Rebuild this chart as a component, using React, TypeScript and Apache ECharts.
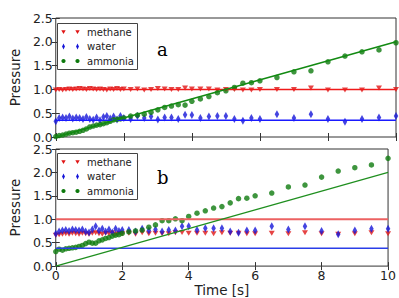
import React, { useEffect, useRef } from "react";
import * as echarts from "echarts";

const times = [
  0, 0.1, 0.2, 0.3, 0.4, 0.5, 0.6, 0.7, 0.8, 0.9, 1.0, 1.1, 1.2, 1.3, 1.4, 1.5, 1.6, 1.7, 1.8, 1.9, 2.0,
  2.2, 2.4, 2.6, 2.8, 3.0, 3.2, 3.4, 3.6, 3.8, 4.0,
  4.25, 4.5, 4.75, 5.0, 5.25, 5.5, 5.75, 6.0,
  6.5, 7.0, 7.5, 8.0, 8.5, 9.0, 9.5, 10.0,
];

// panel a
const methaneA = [
  0.99, 1.0, 0.99, 1.0, 1.01, 1.0, 1.01, 1.02, 1.01, 1.0, 1.02, 1.01, 1.0, 1.01, 1.0, 0.99, 1.01, 1.0, 1.02, 1.0, 1.01,
  1.0, 1.01, 0.99, 1.0, 1.02, 1.01, 1.0, 1.0, 1.03, 1.01,
  1.01, 1.01, 0.99, 1.0, 1.0, 0.99, 0.99, 1.0,
  1.0, 1.0, 1.03, 0.99, 0.99, 0.99, 1.03, 1.0,
];
const waterA = [
  0.33, 0.4, 0.41, 0.4, 0.43, 0.39, 0.41, 0.4, 0.38, 0.42, 0.38, 0.36, 0.41, 0.35, 0.42, 0.44, 0.39, 0.43, 0.37, 0.44, 0.4,
  0.38, 0.44, 0.4, 0.43, 0.37, 0.41, 0.41, 0.38, 0.47, 0.46,
  0.4, 0.43, 0.44, 0.44, 0.38, 0.34, 0.4, 0.38,
  0.48, 0.4, 0.48, 0.38, 0.32, 0.38, 0.41, 0.44,
];
const ammoniaA = [
  0.01, 0.03, 0.04, 0.06, 0.08, 0.09, 0.1, 0.12, 0.14, 0.17, 0.21, 0.23, 0.25, 0.26, 0.28, 0.3, 0.33, 0.36, 0.37, 0.38, 0.4,
  0.44, 0.46, 0.48, 0.52, 0.57, 0.62, 0.65, 0.68, 0.67, 0.75,
  0.8, 0.85, 0.93, 0.97, 1.04, 1.13, 1.14, 1.18,
  1.25, 1.37, 1.39, 1.58, 1.7, 1.79, 1.83, 1.98,
];

// panel b
const methaneB = [
  0.66, 0.67, 0.68, 0.69, 0.68, 0.7, 0.69, 0.68, 0.7, 0.69, 0.68, 0.7, 0.71, 0.69, 0.68, 0.7, 0.69, 0.71, 0.68, 0.7, 0.69,
  0.7, 0.68, 0.71, 0.69, 0.7, 0.69, 0.69, 0.71, 0.72, 0.7,
  0.7, 0.7, 0.69, 0.71, 0.7, 0.7, 0.69, 0.69,
  0.7, 0.69, 0.71, 0.69, 0.68, 0.69, 0.71, 0.69,
];
const waterB = [
  0.69, 0.74, 0.76, 0.77, 0.75, 0.78, 0.77, 0.76, 0.78, 0.74, 0.72, 0.78, 0.85, 0.76, 0.8, 0.74, 0.78, 0.72, 0.8, 0.75, 0.77,
  0.77, 0.74, 0.8, 0.76, 0.78, 0.74, 0.77, 0.76, 0.85, 0.85,
  0.77, 0.81, 0.81, 0.81, 0.74, 0.71, 0.76, 0.76,
  0.85, 0.78, 0.85, 0.75, 0.68, 0.76, 0.8, 0.8,
];
const ammoniaB = [
  0.31, 0.36, 0.34, 0.37, 0.38, 0.39, 0.4, 0.42, 0.44, 0.48, 0.51, 0.49, 0.49, 0.54, 0.56, 0.59, 0.61, 0.64, 0.66, 0.67, 0.7,
  0.73, 0.75, 0.77, 0.83, 0.88, 0.97, 0.97, 1.01, 0.97, 1.06,
  1.13, 1.18, 1.24, 1.27, 1.35, 1.44, 1.45, 1.5,
  1.56, 1.69, 1.73, 1.9, 2.03, 2.1, 2.16, 2.3,
];

// fitted lines (endpoints)
const fitTimes = [0, 10];
const methaneFitA = [1.0, 1.0];
const waterFitA = [0.35, 0.35];
const ammoniaFitA = [0.0, 2.0];
const methaneFitB = [1.0, 1.0];
const waterFitB = [0.38, 0.38];
const ammoniaFitB = [0.0, 2.0];

const xTicks = { min: 0, max: 10, interval: 2 };
const yTicks = { min: 0, max: 2.5, interval: 0.5 };
const panelLabels = ["a", "b"];
const legendNames = ["methane", "water", "ammonia"];

const FONT = "DejaVu Sans";
const C_RED = "#e01515";
const C_BLUE = "#1515d8";
const C_GREEN = "#0e7a0e";

const pairs = (xs: number[], ys: number[]) => xs.map((x, i) => [x, ys[i]]);

function legendGraphic(top: number, label: string, labelTop: number) {
  const left = 57;
  const rowY = [top + 9, top + 23.5, top + 38];
  const m1 = left + 6.5;
  const m2 = left + 20.5;
  const children: any[] = [
    {
      type: "rect",
      shape: { x: left + 0.5, y: top + 0.5, width: 80, height: 46 },
      style: { fill: "#fff", stroke: "#444", lineWidth: 1 },
      z: 10,
    },
  ];
  [m1, m2].forEach((mx) => {
    children.push({
      type: "polygon",
      shape: { points: [[mx - 2.2, rowY[0] - 1.8], [mx + 2.2, rowY[0] - 1.8], [mx, rowY[0] + 2]] },
      style: { fill: C_RED },
      z: 11,
    });
    children.push({
      type: "polygon",
      shape: { points: [[mx, rowY[1] - 3], [mx + 1.4, rowY[1]], [mx, rowY[1] + 3], [mx - 1.4, rowY[1]]] },
      style: { fill: C_BLUE },
      z: 11,
    });
    children.push({
      type: "circle",
      shape: { cx: mx, cy: rowY[2], r: 2.1 },
      style: { fill: C_GREEN },
      z: 11,
    });
  });
  legendNames.forEach((n, i) => {
    children.push({
      type: "text",
      x: left + 30,
      y: rowY[i],
      style: { text: n, font: `10px "${FONT}"`, fill: "#222", verticalAlign: "middle", align: "left" },
      z: 11,
    });
  });
  children.push({
    type: "text",
    x: 157,
    y: labelTop,
    style: { text: label, font: '18px "DejaVu Serif"', fill: "#000" },
    z: 11,
  });
  return { type: "group", children };
}

export default function App() {
  const ref = useRef<HTMLDivElement>(null);
  useEffect(() => {
    if (!ref.current) return;
    const chart = echarts.init(ref.current, undefined, { renderer: "svg" });
    const tick = { show: true, inside: true, length: 4, lineStyle: { color: "#333", width: 1 } };
    const xAxisBase = (grid: number, pos: string, labels: boolean, name?: string) => ({
      type: "value",
      gridIndex: grid,
      position: pos,
      ...xTicks,
      axisLine: { show: false },
      axisTick: tick,
      splitLine: { show: false },
      axisLabel: {
        show: labels,
        margin: 3,
        fontFamily: FONT,
        fontSize: 12.5,
        color: "#222",
        formatter: (v: number) => String(v),
      },
      name: name,
      nameLocation: "middle",
      nameGap: 16,
      nameTextStyle: { fontFamily: FONT, fontSize: 13.5, color: "#222" },
    });
    const yAxisBase = (grid: number, pos: string, labels: boolean, name?: string) => ({
      type: "value",
      gridIndex: grid,
      position: pos,
      ...yTicks,
      axisLine: { show: false },
      axisTick: tick,
      splitLine: { show: false },
      axisLabel: {
        show: labels,
        margin: 3,
        fontFamily: FONT,
        fontSize: 12.5,
        color: "#222",
        formatter: (v: number) => v.toFixed(1),
      },
      name: name,
      nameLocation: "middle",
      nameRotate: 90,
      nameGap: 26,
      nameTextStyle: { fontFamily: FONT, fontSize: 13.5, color: "#222" },
    });

    const scatter = (name: string, data: number[], xi: number, yi: number, kind: string) => {
      const base: any = {
        type: "scatter",
        name,
        xAxisIndex: xi,
        yAxisIndex: yi,
        data: pairs(times, data),
        z: 2,
      };
      if (kind === "tri") {
        base.symbol = "triangle";
        base.symbolRotate = 180;
        base.symbolSize = [6, 5];
        base.itemStyle = { color: C_RED };
      } else if (kind === "dia") {
        base.symbol = "diamond";
        base.symbolSize = [4.5, 8];
        base.itemStyle = { color: C_BLUE };
      } else {
        base.symbol = "circle";
        base.symbolSize = 5.5;
        base.itemStyle = { color: C_GREEN };
      }
      return base;
    };
    const fit = (name: string, data: number[], xi: number, yi: number, color: string, width: number) => ({
      type: "line",
      name,
      xAxisIndex: xi,
      yAxisIndex: yi,
      data: pairs(fitTimes, data),
      showSymbol: false,
      symbol: "none",
      lineStyle: { color, width },
      z: 3,
      silent: true,
    });

    chart.setOption({
      animation: false,
      backgroundColor: "#fff",
      grid: [
        { left: 52, top: 18, width: 344, height: 119, show: true, borderColor: "#333", borderWidth: 1, backgroundColor: "transparent" },
        { left: 52, top: 149, width: 344, height: 119, show: true, borderColor: "#333", borderWidth: 1, backgroundColor: "transparent" },
      ],
      xAxis: [
        xAxisBase(0, "bottom", false),
        xAxisBase(0, "top", false),
        xAxisBase(1, "bottom", true, "Time [s]"),
        xAxisBase(1, "top", false),
      ],
      yAxis: [
        yAxisBase(0, "left", true, "Pressure"),
        yAxisBase(0, "right", false),
        yAxisBase(1, "left", true, "Pressure"),
        yAxisBase(1, "right", false),
      ],
      graphic: [legendGraphic(23, panelLabels[0], 40), legendGraphic(153, panelLabels[1], 168)],
      series: [
        scatter("methane", methaneA, 0, 0, "tri"),
        scatter("water", waterA, 0, 0, "dia"),
        scatter("ammonia", ammoniaA, 0, 0, "cir"),
        fit("methane fit a", methaneFitA, 0, 0, "#f01a1a", 1.5),
        fit("water fit a", waterFitA, 0, 0, "#1a1aff", 1.5),
        fit("ammonia fit a", ammoniaFitA, 0, 0, "#128a12", 1.5),
        scatter("methane", methaneB, 2, 2, "tri"),
        scatter("water", waterB, 2, 2, "dia"),
        scatter("ammonia", ammoniaB, 2, 2, "cir"),
        fit("methane fit b", methaneFitB, 2, 2, "#ec6262", 2.2),
        fit("water fit b", waterFitB, 2, 2, "#2a3ee8", 1.5),
        fit("ammonia fit b", ammoniaFitB, 2, 2, "#1f8f1f", 1.2),
      ],
    });
    return () => chart.dispose();
  }, []);
  return (
    <div
      ref={ref}
      style={{ position: "absolute", left: 0, top: 0, width: 399, height: 298, background: "#fff" }}
    />
  );
}
